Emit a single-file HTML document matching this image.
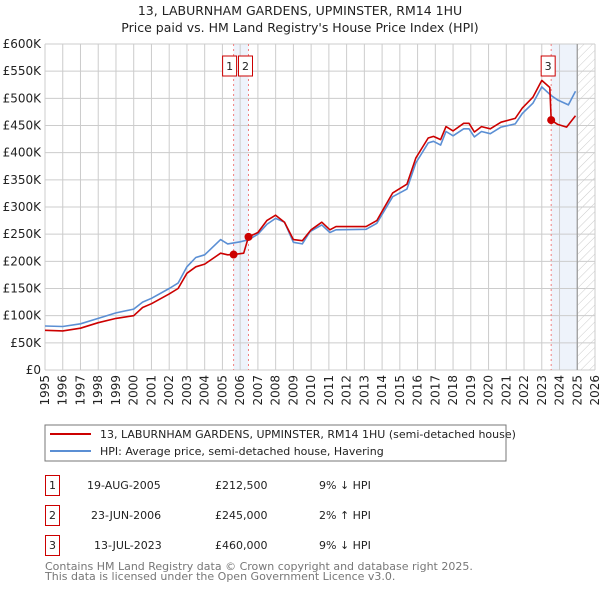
<!DOCTYPE html>
<html><head><meta charset="utf-8"><style>
body{margin:0;background:#fff;font-family:"Liberation Sans","DejaVu Sans",sans-serif;}
svg text{font-family:"DejaVu Sans","Liberation Sans",sans-serif;}
</style></head><body>
<svg id="c" width="600" height="590" xmlns="http://www.w3.org/2000/svg">
<defs><pattern id="hatch" width="6" height="6" patternUnits="userSpaceOnUse" patternTransform="rotate(45)"><line x1="0" y1="0" x2="0" y2="6" stroke="#ccc" stroke-width="1"/></pattern></defs>
<text x="300" y="15" text-anchor="middle" font-size="12.5" fill="#222">13, LABURNHAM GARDENS, UPMINSTER, RM14 1HU</text>
<text x="300" y="32" text-anchor="middle" font-size="12.5" fill="#222">Price paid vs. HM Land Registry's House Price Index (HPI)</text>
<g id="plot"></g>
<rect x="45" y="425" width="461" height="36" fill="#fff" stroke="#777"/>
<line x1="50" y1="434" x2="91" y2="434" stroke="#cc0000" stroke-width="2"/>
<text x="100" y="438" font-size="11" fill="#222">13, LABURNHAM GARDENS, UPMINSTER, RM14 1HU (semi-detached house)</text>
<line x1="50" y1="451" x2="91" y2="451" stroke="#5b8fd4" stroke-width="2"/>
<text x="100" y="455" font-size="11" fill="#222">HPI: Average price, semi-detached house, Havering</text>
<g font-size="11" fill="#222">
<rect x="45.5" y="475.5" width="14" height="20" fill="none" stroke="#c00"/><text x="52.5" y="489" text-anchor="middle">1</text>
<text x="87" y="489">19-AUG-2005</text><text x="215" y="489">£212,500</text><text x="319" y="489">9% ↓ HPI</text>
<rect x="45.5" y="505.5" width="14" height="20" fill="none" stroke="#c00"/><text x="52.5" y="519" text-anchor="middle">2</text>
<text x="91" y="519">23-JUN-2006</text><text x="215" y="519">£245,000</text><text x="319" y="519">2% ↑ HPI</text>
<rect x="45.5" y="535.5" width="14" height="20" fill="none" stroke="#c00"/><text x="52.5" y="549" text-anchor="middle">3</text>
<text x="94" y="549">13-JUL-2023</text><text x="215" y="549">£460,000</text><text x="319" y="549">9% ↓ HPI</text>
</g>
<text x="45" y="570" font-size="11" fill="#777">Contains HM Land Registry data © Crown copyright and database right 2025.</text>
<text x="45" y="580" font-size="11" fill="#777">This data is licensed under the Open Government Licence v3.0.</text>
</svg>
<script>
const yTicks=[0,50,100,150,200,250,300,350,400,450,500,550,600];
const yTickLabels=["£0","£50K","£100K","£150K","£200K","£250K","£300K","£350K","£400K","£450K","£500K","£550K","£600K"];
const years=[1995,1996,1997,1998,1999,2000,2001,2002,2003,2004,2005,2006,2007,2008,2009,2010,2011,2012,2013,2014,2015,2016,2017,2018,2019,2020,2021,2022,2023,2024,2025,2026];
const hpiDates=[1995,1996,1997,1998,1999,2000,2000.5,2001,2002,2002.5,2003,2003.5,2004,2004.9,2005.3,2006,2006.5,2007,2007.5,2008,2008.5,2009,2009.5,2009.94,2010.6,2011.06,2011.4,2013.1,2013.7,2014.6,2015.4,2015.9,2016.6,2016.9,2017.3,2017.6,2018.0,2018.6,2018.9,2019.2,2019.6,2020.1,2020.7,2021.5,2021.9,2022.5,2023.0,2023.5,2023.9,2024.5,2024.9];
const hpiValues=[81,80,85,95,105,112,125,132,150,160,190,207,212,240,232,236,240,250,268,279,272,235,232,255,267,253,258,259,270,319,333,381,418,421,414,439,431,444,444,429,439,435,447,453,472,491,521,506,497,488,513];
const priceDates=[1995,1996,1997,1998,1999,2000,2000.5,2001,2002,2002.5,2003,2003.5,2004,2004.9,2005.3,2005.63,2006.2,2006.47,2007,2007.5,2008,2008.5,2009,2009.5,2010,2010.6,2011.06,2011.4,2013.1,2013.7,2014.6,2015.4,2015.9,2016.6,2016.9,2017.3,2017.6,2018.0,2018.6,2018.9,2019.2,2019.6,2020.1,2020.7,2021.5,2021.9,2022.5,2023.0,2023.45,2023.53,2023.9,2024.4,2024.9];
const priceValues=[73,72,77,87,95,100,115,122,140,150,178,190,195,215,212,212.5,215,245,253,275,285,272,240,238,258,272,258,264,264,275,326,342,390,427,430,424,448,440,454,454,438,448,444,456,463,482,502,533,520,460,452,447,468];
const saleDates=[2005.63,2006.47,2023.53];
const saleValues=[212.5,245,460];
const saleLabels=["1","2","3"];
const NS="http://www.w3.org/2000/svg";
const X0=45,X1=595,Y0=370,Y1=44;
const xs=d=>X0+(d-1995)/(2026-1995)*(X1-X0);
const ys=v=>Y0-v/600*(Y0-Y1);
const g=document.getElementById('plot');
function mk(t,a,p){const e=document.createElementNS(NS,t);for(const k in a)e.setAttribute(k,a[k]);(p||g).appendChild(e);return e;}
// shaded regions
let e;
e=mk('rect',{x:xs(saleDates[0]),y:Y1,width:xs(saleDates[1])-xs(saleDates[0]),height:Y0-Y1,fill:'#eef3fb'});


e=mk('rect',{x:xs(saleDates[2]),y:Y1,width:xs(2025)-xs(saleDates[2]),height:Y0-Y1,fill:'#eef3fb'});


e=mk('rect',{x:xs(2025),y:Y1,width:X1-xs(2025),height:Y0-Y1,fill:'url(#hatch)'});


// grid
yTicks.forEach((v,i)=>{
  e=mk('line',{x1:X0,x2:X1,y1:ys(v),y2:ys(v),stroke:'#ccc','stroke-width':1});
  
  
  e=mk('text',{x:X0-4,y:ys(v)+4,'text-anchor':'end','font-size':12,fill:'#222'});
  e.textContent=yTickLabels[i];
  
  
});
years.forEach(y=>{
  e=mk('line',{x1:xs(y),x2:xs(y),y1:Y1,y2:Y0,stroke:'#ccc','stroke-width':1});
  
  
  e=mk('text',{x:0,y:0,'text-anchor':'end','font-size':12,fill:'#222',transform:`translate(${xs(y)+4},${Y0+5}) rotate(-90)`});
  e.textContent=String(y);
  
  
});
e=mk('line',{x1:xs(2025),x2:xs(2025),y1:Y1,y2:Y0,stroke:'#999','stroke-width':1.2});


// sale vlines
saleDates.forEach(d=>{
  e=mk('line',{x1:xs(d),x2:xs(d),y1:Y1,y2:Y0,stroke:'#f08080','stroke-width':1,'stroke-dasharray':'2,3'});
  
  
});
// series
function line(dates,vals,col,name){
  const p=dates.map((d,i)=>(i?'L':'M')+xs(d).toFixed(1)+','+ys(vals[i]).toFixed(1)).join('');
  const el=mk('path',{d:p,fill:'none',stroke:col,'stroke-width':1.6,'stroke-linejoin':'round'});
  
  
}
line(hpiDates,hpiValues,'#5b8fd4','hpi-line');
line(priceDates,priceValues,'#cc0000','price-paid-line');
saleDates.forEach((d,i)=>{
  e=mk('circle',{cx:xs(d),cy:ys(saleValues[i]),r:4,fill:'#cc0000'});
  
  
  const bx=i===0?xs(d)-11:(i===1?xs(d)-10:xs(d)-10);
  e=mk('rect',{x:bx,y:Y1+12,width:14,height:20,fill:'#fff',stroke:'#c00'});
  
  
  e=mk('text',{x:bx+7,y:Y1+26,'text-anchor':'middle','font-size':11,fill:'#222'});
  e.textContent=saleLabels[i];
  
  
});
</script>
</body></html>
